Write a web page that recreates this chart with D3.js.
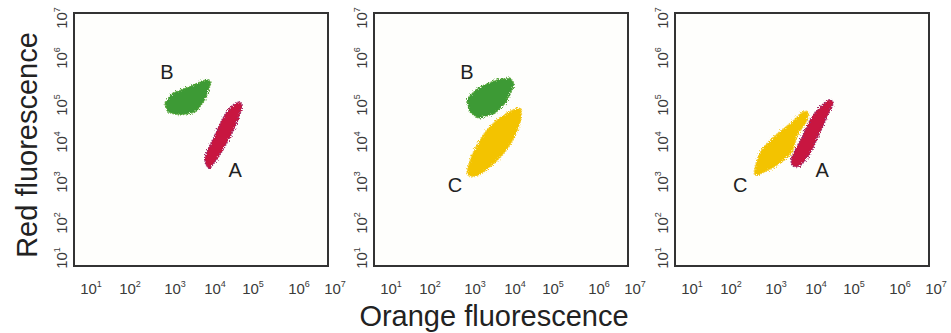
<!DOCTYPE html>
<html>
<head>
<meta charset="utf-8">
<script src="https://cdn.jsdelivr.net/npm/d3@7"></script>
<style>
  body { margin: 0; background: #fff; }
  text { font-family: "Liberation Sans", Arial, sans-serif; }
</style>
</head>
<body>
<div id="chart"></div>
<script>
// decades shown on both axes
var decades = [1e1, 1e2, 1e3, 1e4, 1e5, 1e6, 1e7];
var decadeExps = ["1", "2", "3", "4", "5", "6", "7"];

// population outlines, [orange, red] fluorescence
var popB1 = [[600,110000],[910,180000],[2100,240000],[6300,350000],[7900,300000],[5600,130000],[3200,65000],[1350,54000],[690,65000]];
var popA1 = [[5600,3500],[10000,15500],[22000,72000],[41000,115000],[51000,105000],[38000,35000],[18000,7600],[9500,3000],[7100,2200]];
var popB2 = [[660,130000],[1200,230000],[3500,340000],[7600,370000],[9500,270000],[6000,115000],[3000,58000],[1200,45000],[780,65000]];
var popC2 = [[690,1500],[780,3500],[1600,15500],[3500,39000],[8500,72000],[13500,83000],[14500,45000],[10000,14500],[5600,5600],[2400,2400],[1070,1400]];
var popC3 = [[340,1500],[440,5400],[850,13000],[2500,35000],[4800,65000],[6300,65000],[6000,39000],[3500,15500],[2500,5600],[1300,3000],[510,1700]];
var popA3 = [[2500,4000],[4500,13800],[7900,48000],[14500,100000],[23000,130000],[28000,115000],[19500,48000],[11000,13000],[6300,4300],[3500,2400],[2500,2700]];

// population labels, [name, orange, red]
var labels1 = [["B", 660, 500000], ["A", 34000, 2000]];
var labels2 = [["B", 660, 500000], ["C", 360, 850]];
var labels3 = [["C", 160, 850], ["A", 14500, 2000]];

var colors = { A: "#c8173f", B: "#3c9a34", C: "#f3c300" };
var edges = { A: "#a02a6a", B: "#5aa83a", C: "#f5d040" };

var panels = [
  { left: 74, pops: [["B", popB1], ["A", popA1]], labels: labels1 },
  { left: 374, pops: [["B", popB2], ["C", popC2]], labels: labels2 },
  { left: 675, pops: [["C", popC3], ["A", popA3]], labels: labels3 }
];

var svgWidth = 951, svgHeight = 333;
var panelTop = 13, frameW = 254, frameH = 253;

var svg = d3.select("#chart").append("svg")
  .attr("width", svgWidth)
  .attr("height", svgHeight);

// ragged edge like a cloud of events
var filt = svg.append("defs").append("filter")
  .attr("id", "rough").attr("x", "-20%").attr("y", "-20%")
  .attr("width", "140%").attr("height", "140%");
filt.append("feTurbulence")
  .attr("type", "fractalNoise").attr("baseFrequency", 0.9)
  .attr("numOctaves", 2).attr("seed", 3).attr("result", "noise");
filt.append("feDisplacementMap")
  .attr("in", "SourceGraphic").attr("in2", "noise")
  .attr("scale", 3.5);

var x = d3.scaleLog().domain(decades).range([17, 56, 101, 141, 179, 225, 261]);
var y = d3.scaleLog().domain(decades).range([245, 210, 169, 129, 92, 45, 5]);

var smooth = d3.line()
  .x(d => x(d[0]))
  .y(d => y(d[1]))
  .curve(d3.curveCatmullRomClosed.alpha(0.5));

// B gate looks more angular
var sharp = d3.line()
  .x(d => x(d[0]))
  .y(d => y(d[1]))
  .curve(d3.curveCardinalClosed.tension(0.7));

panels.forEach(function(p) {
  var g = svg.append("g")
    .attr("transform", "translate(" + p.left + "," + panelTop + ")");

  g.append("rect")
    .attr("width", frameW).attr("height", frameH)
    .attr("fill", "#fefefc");

  p.pops.forEach(function(pop) {
    g.append("path")
      .datum(pop[1])
      .attr("d", pop[0] == "B" ? sharp : smooth)
      .attr("fill", colors[pop[0]])
      .attr("stroke", edges[pop[0]])
      .attr("stroke-width", 1.5)
      .attr("stroke-dasharray", "1.5,1.2")
      .attr("filter", "url(#rough)");
  });

  g.append("rect")
    .attr("width", frameW).attr("height", frameH)
    .attr("fill", "none")
    .attr("stroke", "#333")
    .attr("stroke-width", 2);

  // x tick labels
  var xt = g.selectAll(".xt").data(decades).enter().append("text")
    .attr("class", "xt")
    .attr("x", d => x(d))
    .attr("y", frameH + 28)
    .attr("text-anchor", "middle")
    .attr("fill", "#3a3a3a")
    .attr("font-size", 15);
  xt.append("tspan").text("10");
  xt.append("tspan").attr("dy", -7).attr("font-size", 9)
    .text((d, i) => decadeExps[i]);

  // y tick labels, rotated
  var yt = g.selectAll(".yt").data(decades).enter().append("text")
    .attr("class", "yt")
    .attr("transform", d => "translate(-7," + y(d) + ") rotate(-90)")
    .attr("text-anchor", "middle")
    .attr("fill", "#3a3a3a")
    .attr("font-size", 15);
  yt.append("tspan").text("10");
  yt.append("tspan").attr("dy", -7).attr("font-size", 9)
    .text((d, i) => decadeExps[i]);

  g.selectAll(".pl").data(p.labels).enter().append("text")
    .attr("class", "pl")
    .attr("x", d => x(d[1]))
    .attr("y", d => y(d[2]))
    .attr("dy", "0.35em")
    .attr("text-anchor", "middle")
    .attr("fill", "#222")
    .attr("font-size", 20)
    .text(d => d[0]);
});

svg.append("text")
  .attr("transform", "translate(37,145) rotate(-90)")
  .attr("text-anchor", "middle")
  .attr("fill", "#222")
  .attr("font-size", 29)
  .text("Red fluorescence");

svg.append("text")
  .attr("x", 494)
  .attr("y", 326)
  .attr("text-anchor", "middle")
  .attr("fill", "#222")
  .attr("font-size", 29)
  .text("Orange fluorescence");
</script>
</body>
</html>
